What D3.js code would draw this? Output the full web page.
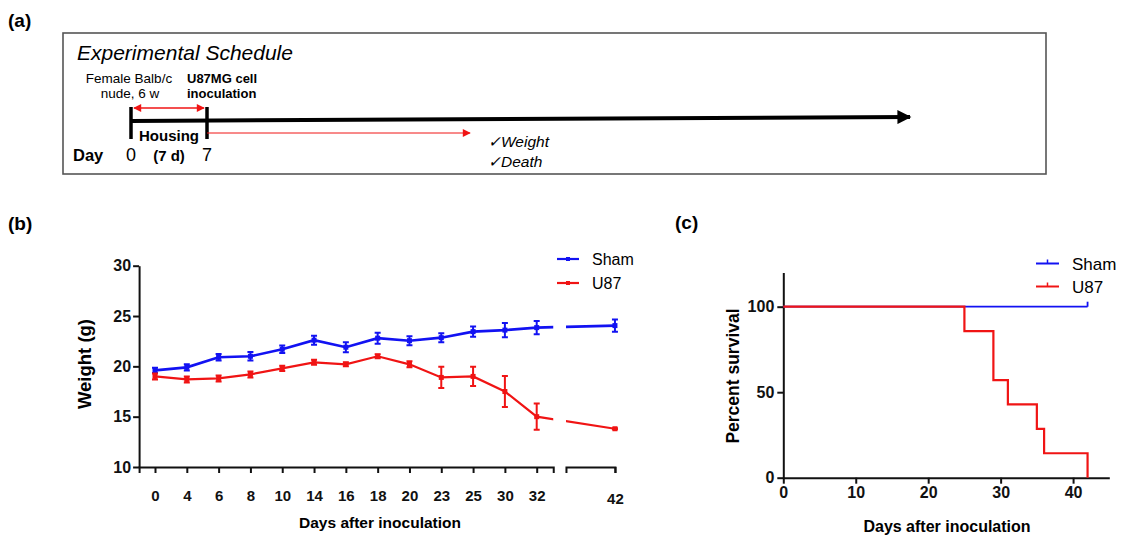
<!DOCTYPE html>
<html>
<head>
<meta charset="utf-8">
<script src="https://cdn.jsdelivr.net/npm/d3@7"></script>
<style>
  body { margin: 0; background: #fff; }
  svg { font-family: "Liberation Sans", Arial, Helvetica, sans-serif; }
  .axis path, .axis line { stroke: #111; stroke-width: 2px; }
  .axis text { font-weight: bold; fill: #111; }
</style>
</head>
<body>
<script>
// ---- data ----
// (b) weight over time
var days = ["0", "4", "6", "8", "10", "14", "16", "18", "20", "23", "25", "30", "32", "42"];
var shamWeight = [19.6, 19.9, 20.9, 21.0, 21.7, 22.6, 21.9, 22.8, 22.55, 22.85, 23.45, 23.6, 23.85, 24.05];
var shamErr = [0.25, 0.3, 0.33, 0.42, 0.38, 0.45, 0.5, 0.55, 0.45, 0.45, 0.5, 0.7, 0.65, 0.6];
var u87Weight = [19.0, 18.7, 18.8, 19.2, 19.8, 20.4, 20.2, 21.0, 20.2, 18.9, 19.0, 17.5, 15.0, 13.8];
var u87Err = [0.3, 0.3, 0.3, 0.3, 0.25, 0.25, 0.2, 0.2, 0.3, 1.05, 0.95, 1.55, 1.3, 0.05];
var weightTicks = [10, 15, 20, 25, 30];

// (c) survival
var u87Time = [0, 25, 29, 31, 35, 36, 42];
var u87Survival = [100, 85.7, 57.1, 42.9, 28.6, 14.3, 0];
var shamTime = [0, 42];
var shamSurvival = [100, 100];
var survivalTicks = [0, 50, 100];
var survivalDayTicks = [0, 10, 20, 30, 40];

var blue = "#1212f2";
var red = "#f01414";

var svg = d3.select("body").append("svg")
    .attr("width", 1126)
    .attr("height", 540);

var defs = svg.append("defs");
function arrowMarker(id, color, w, h) {
    defs.append("marker")
        .attr("id", id)
        .attr("viewBox", "0 0 10 10")
        .attr("refX", 9).attr("refY", 5)
        .attr("markerUnits", "userSpaceOnUse")
        .attr("markerWidth", w).attr("markerHeight", h)
        .attr("orient", "auto-start-reverse")
        .append("path")
        .attr("d", "M0,0 L10,5 L0,10 Z")
        .attr("fill", color);
}
arrowMarker("arrBlack", "#000", 16, 14);
arrowMarker("arrRed", red, 10, 8);

// panel letters
[["(a)", 8, 27], ["(b)", 8, 230], ["(c)", 675, 229]].forEach(function (p) {
    svg.append("text").text(p[0])
        .attr("x", p[1]).attr("y", p[2])
        .attr("font-size", 19).attr("font-weight", "bold");
});

//Experimental schedule (a)
var a = svg.append("g");
a.append("rect")
    .attr("x", 63).attr("y", 33).attr("width", 983).attr("height", 141)
    .attr("fill", "none").attr("stroke", "#555").attr("stroke-width", 1.6);
a.append("text").text("Experimental Schedule")
    .attr("x", 77).attr("y", 60)
    .attr("font-size", 21).attr("font-style", "italic");

var dayX = d3.scaleLinear().domain([0, 7]).range([131, 207]);

a.append("text").text("Female Balb/c")
    .attr("x", dayX(0) - 2).attr("y", 83).attr("text-anchor", "middle").attr("font-size", 13.5);
a.append("text").text("nude, 6 w")
    .attr("x", dayX(0) - 1).attr("y", 98).attr("text-anchor", "middle").attr("font-size", 13.5);
a.append("text").text("U87MG cell")
    .attr("x", dayX(7) - 20).attr("y", 83).attr("font-size", 13).attr("font-weight", "bold");
a.append("text").text("inoculation")
    .attr("x", dayX(7) - 20).attr("y", 98).attr("font-size", 13).attr("font-weight", "bold");

// main timeline
a.append("line")
    .attr("x1", dayX(0)).attr("y1", 121).attr("x2", 910).attr("y2", 117)
    .attr("stroke", "#000").attr("stroke-width", 4)
    .attr("marker-end", "url(#arrBlack)");
[0, 7].forEach(function (d) {
    a.append("line")
        .attr("x1", dayX(d)).attr("x2", dayX(d))
        .attr("y1", 107).attr("y2", 139)
        .attr("stroke", "#000").attr("stroke-width", 3.5);
});
// housing double arrow
a.append("line")
    .attr("x1", dayX(0) + 3).attr("x2", dayX(7) - 3)
    .attr("y1", 108).attr("y2", 108)
    .attr("stroke", red).attr("stroke-width", 1.3)
    .attr("marker-start", "url(#arrRed)")
    .attr("marker-end", "url(#arrRed)");
// follow-up arrow
a.append("line")
    .attr("x1", dayX(7)).attr("x2", 470)
    .attr("y1", 133).attr("y2", 133)
    .attr("stroke", red).attr("stroke-width", 1)
    .attr("marker-end", "url(#arrRed)");

a.append("text").text("Housing")
    .attr("x", (dayX(0) + dayX(7)) / 2).attr("y", 141)
    .attr("text-anchor", "middle").attr("font-size", 15).attr("font-weight", "bold");
a.append("text").text("Day")
    .attr("x", 73).attr("y", 161).attr("font-size", 16.5).attr("font-weight", "bold");
a.append("text").text("0")
    .attr("x", dayX(0)).attr("y", 161).attr("text-anchor", "middle").attr("font-size", 18);
a.append("text").text("(7 d)")
    .attr("x", dayX(3.5)).attr("y", 161).attr("text-anchor", "middle")
    .attr("font-size", 15).attr("font-weight", "bold");
a.append("text").text("7")
    .attr("x", dayX(7)).attr("y", 161).attr("text-anchor", "middle").attr("font-size", 18);
a.append("text").text("\u2713Weight")
    .attr("x", 488).attr("y", 147).attr("font-size", 15.5).attr("font-style", "italic");
a.append("text").text("\u2713Death")
    .attr("x", 488).attr("y", 167).attr("font-size", 15.5).attr("font-style", "italic");

//Weight graph (b)
var b = svg.append("g");
var x = d3.scaleLinear().domain([0, 12]).range([155, 536.7]);
var y = d3.scaleLinear().domain([10, 30]).range([467, 265.7]);
// index of each category on the broken axis; 42 sits past the break
function pos(i) { return i < 13 ? i : 14.46; }
var seg1 = [-0.5, 12.52];
var seg2 = [12.92, 14.46];

[seg1, seg2].forEach(function (seg, k) {
    var sx = x.copy().domain(seg).range(seg.map(x));
    var vals = k === 0 ? d3.range(13) : [pos(13)];
    var ax = b.append("g").attr("class", "axis")
        .attr("transform", "translate(0," + y(10) + ")")
        .call(d3.axisBottom(sx).tickValues(vals)
            .tickFormat(function (v) { return k === 0 ? days[v] : days[13]; })
            .tickSize(6).tickSizeOuter(6).tickPadding(17));
    ax.selectAll("text").attr("font-size", 15);
    if (k === 1) ax.selectAll("text").attr("dy", "0.92em");
    defs.append("clipPath").attr("id", "seg" + k)
        .append("rect")
        .attr("x", x(seg[0])).attr("y", 240)
        .attr("width", x(seg[1]) - x(seg[0])).attr("height", 230);
});

var yAx = b.append("g").attr("class", "axis")
    .attr("transform", "translate(" + x(seg1[0]) + ",0)")
    .call(d3.axisLeft(y).tickValues(weightTicks).tickSize(6).tickSizeOuter(0).tickPadding(2));
yAx.selectAll("text").attr("font-size", 16);

b.append("text").text("Weight (g)")
    .attr("transform", "translate(91,364) rotate(-90)")
    .attr("text-anchor", "middle").attr("font-size", 18.5).attr("font-weight", "bold");
b.append("text").text("Days after inoculation")
    .attr("x", 380).attr("y", 528)
    .attr("text-anchor", "middle").attr("font-size", 15.5).attr("font-weight", "bold");

var weightLine = d3.line()
    .x(function (d, i) { return x(pos(i)); })
    .y(function (d) { return y(d); });

[[shamWeight, shamErr, blue, 2.6], [u87Weight, u87Err, red, 2.2]].forEach(function (s) {
    var color = s[2];
    [0, 1].forEach(function (k) {
        b.append("path")
            .attr("d", weightLine(s[0]))
            .attr("clip-path", "url(#seg" + k + ")")
            .attr("fill", "none")
            .attr("stroke", color).attr("stroke-width", s[3]);
    });
    var pts = b.append("g").selectAll("g")
        .data(s[0]).enter().append("g")
        .attr("transform", function (d, i) { return "translate(" + x(pos(i)) + "," + y(d) + ")"; });
    pts.append("path")
        .attr("d", function (d, i) {
            var h = y(d - s[1][i]) - y(d);
            return "M0," + (-h) + "V" + h + "M-3," + (-h) + "H3M-3," + h + "H3";
        })
        .attr("stroke", color).attr("stroke-width", 2).attr("fill", "none");
    pts.append("rect")
        .attr("x", -2.5).attr("y", -2.5).attr("width", 5).attr("height", 5)
        .attr("fill", color);
});

// legend (b)
[["Sham", blue, 259], ["U87", red, 283]].forEach(function (l) {
    b.append("line")
        .attr("x1", 557).attr("x2", 579).attr("y1", l[2]).attr("y2", l[2])
        .attr("stroke", l[1]).attr("stroke-width", 2.2);
    b.append("rect")
        .attr("x", 566).attr("y", l[2] - 2).attr("width", 4).attr("height", 4)
        .attr("fill", l[1]);
    b.append("text").text(l[0])
        .attr("x", 592).attr("y", l[2] + 6).attr("font-size", 16);
});

//Survival curve (c)
var c = svg.append("g");
var sx = d3.scaleLinear().domain([0, 45]).range([783.3, 1109.3]);
var sy = d3.scaleLinear().domain([0, 120]).range([477.7, 272.5]);

var cx = c.append("g").attr("class", "axis")
    .attr("transform", "translate(0," + sy(0) + ")")
    .call(d3.axisBottom(sx).tickValues(survivalDayTicks).tickSize(6).tickSizeOuter(0).tickPadding(3));
cx.selectAll("text").attr("font-size", 16);
var cy = c.append("g").attr("class", "axis")
    .attr("transform", "translate(" + sx(0) + ",0)")
    .call(d3.axisLeft(sy).tickValues(survivalTicks).tickSize(6).tickSizeOuter(0).tickPadding(3));
cy.selectAll("text").attr("font-size", 16);

c.append("text").text("Percent survival")
    .attr("transform", "translate(739,376) rotate(-90)")
    .attr("text-anchor", "middle").attr("font-size", 17.5).attr("font-weight", "bold");
c.append("text").text("Days after inoculation")
    .attr("x", 947).attr("y", 532)
    .attr("text-anchor", "middle").attr("font-size", 16).attr("font-weight", "bold");

var stepLine = d3.line()
    .curve(d3.curveStepAfter)
    .x(function (d) { return sx(d[0]); })
    .y(function (d) { return sy(d[1]); });

c.append("path")
    .attr("d", stepLine(d3.zip(shamTime, shamSurvival)))
    .attr("fill", "none").attr("stroke", blue).attr("stroke-width", 1.8);
// censored mark at end of sham
c.append("line")
    .attr("x1", sx(shamTime[1])).attr("x2", sx(shamTime[1]))
    .attr("y1", sy(shamSurvival[1])).attr("y2", sy(shamSurvival[1]) - 5)
    .attr("stroke", blue).attr("stroke-width", 1.8);
c.append("path")
    .attr("d", stepLine(d3.zip(u87Time, u87Survival)))
    .attr("fill", "none").attr("stroke", red).attr("stroke-width", 2.2);

// legend (c)
[["Sham", blue, 263.5], ["U87", red, 286.5]].forEach(function (l) {
    c.append("line")
        .attr("x1", 1036).attr("x2", 1059).attr("y1", l[2]).attr("y2", l[2])
        .attr("stroke", l[1]).attr("stroke-width", 2);
    c.append("line")
        .attr("x1", 1047.5).attr("x2", 1047.5).attr("y1", l[2]).attr("y2", l[2] - 4)
        .attr("stroke", l[1]).attr("stroke-width", 1.5);
    c.append("text").text(l[0])
        .attr("x", 1072).attr("y", l[2] + 6).attr("font-size", 17);
});
</script>
</body>
</html>
